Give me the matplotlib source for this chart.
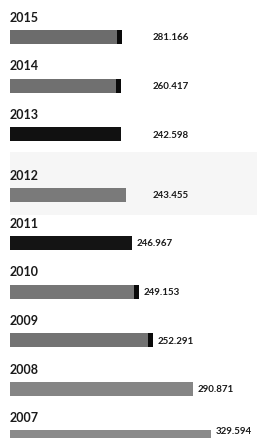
import matplotlib
matplotlib.use("Agg")
import matplotlib.pyplot as plt

years = ["2015", "2014", "2013", "2012", "2011", "2010", "2009", "2008", "2007"]
value_labels = ["281.166", "260.417", "242.598", "243.455", "246.967",
                "249.153", "252.291", "290.871", "329.594"]
# bar lengths as drawn in the picture (not proportional to the printed values)
bar_lengths = [183.7, 182.0, 182.0, 190.0, 200.0, 211.0, 234.6, 300.0, 329.6]
bar_colors = ["#6c6c6c", "#707070", "#111111", "#7a7a7a", "#141414",
              "#767676", "#737373", "#858585", "#8a8a8a"]
end_caps = [True, True, False, False, False, True, True, False, False]

W, H = 257, 438
fig = plt.figure(figsize=(W / 100, H / 100), dpi=100)
ax = fig.add_axes([0, 0, 1, 1])
ax.set_xlim(-16.4, 405)
ax.set_ylim(H, 0)
ax.axis("off")

font = ["Lato", "DejaVu Sans"]
unit = 0.61  # px per data unit
cap_w = 5 / unit
bh = 14

ypos = [37 + 48.5 * i + (12 if i >= 3 else 0) for i in range(len(years))]

# faint band behind 2012
ax.fill_between([0, 405], 152, 215, color="#f6f6f6", zorder=0, lw=0)

for i, (yr, lab, L, c, cap) in enumerate(zip(years, value_labels, bar_lengths, bar_colors, end_caps)):
    y = ypos[i]
    ax.barh(y, L, height=bh, left=0, color=c, zorder=2)
    if cap:
        ax.barh(y, cap_w, height=bh, left=L - cap_w, color="#0a0a0a", zorder=3)
    ax.text(0, y - 19, yr, fontsize=9, fontweight="bold", family=font,
            color="#1a1a1a", va="center", ha="left")
    if i < 4:
        lx = 233
    else:
        lx = L + 8
    ax.text(lx, min(y + 1, 432), lab, fontsize=7, fontweight="bold", family=font,
            color="#1a1a1a", va="center", ha="left")

fig.savefig("out.png", dpi=100)
